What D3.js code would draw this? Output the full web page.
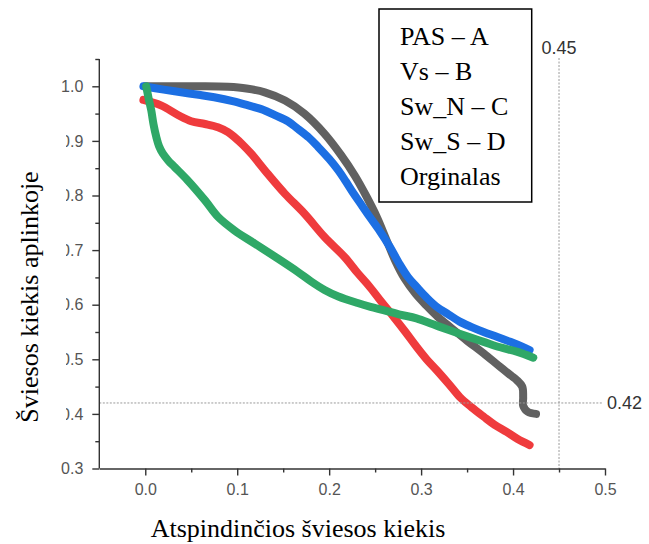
<!DOCTYPE html>
<html><head><meta charset="utf-8">
<script src="https://cdn.jsdelivr.net/npm/d3@7"></script>
<style>body{margin:0;background:#fff}svg{display:block}</style>
</head><body><svg id="c" width="649" height="544"></svg>
<script>
// ---- data ----
const origData = [[0.000,1.000],[0.03,1.000],[0.06,1.000],[0.09,0.999],[0.11,0.996],[0.13,0.989],[0.152,0.974],[0.173,0.950],[0.195,0.913],[0.213,0.874],[0.228,0.836],[0.24,0.800],[0.252,0.760],[0.262,0.720],[0.272,0.680],[0.282,0.648],[0.294,0.620],[0.306,0.598],[0.318,0.578],[0.331,0.560],[0.35,0.534],[0.368,0.511],[0.386,0.486],[0.398,0.470],[0.404,0.462],[0.410,0.450],[0.411,0.430],[0.411,0.415],[0.416,0.404],[0.425,0.400]];
const redData = [[-0.002,0.975],[0.017,0.965],[0.036,0.947],[0.050,0.936],[0.065,0.931],[0.079,0.925],[0.090,0.916],[0.097,0.907],[0.106,0.893],[0.115,0.877],[0.133,0.840],[0.152,0.803],[0.173,0.767],[0.195,0.724],[0.217,0.687],[0.231,0.658],[0.244,0.633],[0.257,0.605],[0.270,0.578],[0.283,0.550],[0.295,0.523],[0.306,0.500],[0.317,0.480],[0.330,0.455],[0.342,0.431],[0.355,0.412],[0.368,0.395],[0.380,0.380],[0.393,0.367],[0.405,0.354],[0.418,0.343]];
const blueData = [[-0.002,1.000],[0.02,0.994],[0.039,0.989],[0.06,0.984],[0.075,0.980],[0.095,0.973],[0.112,0.965],[0.128,0.957],[0.141,0.947],[0.155,0.936],[0.166,0.922],[0.178,0.906],[0.188,0.889],[0.200,0.867],[0.210,0.846],[0.218,0.826],[0.226,0.805],[0.235,0.783],[0.244,0.761],[0.255,0.735],[0.266,0.706],[0.276,0.676],[0.286,0.650],[0.295,0.633],[0.306,0.613],[0.317,0.596],[0.330,0.582],[0.342,0.569],[0.355,0.559],[0.368,0.550],[0.383,0.541],[0.397,0.532],[0.410,0.523],[0.418,0.517]];
const greenData = [[0.001,1.000],[0.004,0.975],[0.0065,0.956],[0.009,0.930],[0.012,0.907],[0.015,0.890],[0.019,0.877],[0.025,0.864],[0.032,0.852],[0.046,0.828],[0.065,0.791],[0.079,0.761],[0.097,0.736],[0.119,0.712],[0.141,0.688],[0.166,0.660],[0.180,0.643],[0.195,0.627],[0.210,0.615],[0.231,0.603],[0.245,0.596],[0.259,0.590],[0.277,0.582],[0.295,0.575],[0.313,0.564],[0.331,0.553],[0.350,0.542],[0.368,0.532],[0.386,0.522],[0.404,0.514],[0.422,0.503]];
const seriesColors = ["#616161","#ef3b3d","#1c6fe3","#2fa867"];
const legendLabels = ["PAS – A","Vs – B","Sw_N – C","Sw_S – D","Orginalas"];
const xTicks = [0,0.1,0.2,0.3,0.4,0.5];
const xMinor = [0.05,0.15,0.25,0.35,0.45];
const yTicks = [0.3,0.4,0.5,0.6,0.7,0.8,0.9,1.0];
const yMinor = [0.35,0.45,0.55,0.65,0.75,0.85,0.95,1.05];
const refX = 0.45, refY = 0.42;
const xTitle = "Atspindinčios šviesos kiekis";
const yTitle = "Šviesos kiekis aplinkoje";

// ---- drawing ----
const svg = d3.select("#c");
svg.append("rect").attr("width",649).attr("height",544).attr("fill","#fff");
const x = d3.scaleLinear().domain([-0.05,0.5]).range([99.3,605]);
const y = d3.scaleLinear().domain([0.3,1.05]).range([468.5,59]);
const sans = "'Liberation Sans', Arial, sans-serif";
const serif = "'Liberation Serif', 'Times New Roman', serif";

// curves
const line = d3.line().x(d=>x(d[0])).y(d=>y(d[1])).curve(d3.curveCatmullRom.alpha(0.5));
[origData, redData, blueData, greenData].forEach((s,i)=>{
  svg.append("path").datum(s).attr("d",line).attr("fill","none")
    .attr("stroke",seriesColors[i]).attr("stroke-width",8)
    .attr("stroke-linecap","round").attr("stroke-linejoin","round");
});

// reference lines
svg.append("line").attr("x1",x(refX)).attr("x2",x(refX)).attr("y1",58).attr("y2",y(0.3))
  .attr("stroke","#9a9a9a").attr("stroke-width",1).attr("stroke-dasharray","2,1.5");
svg.append("line").attr("x1",x(-0.05)).attr("x2",603).attr("y1",y(refY)).attr("y2",y(refY))
  .attr("stroke","#9a9a9a").attr("stroke-width",1).attr("stroke-dasharray","2,1.5");
svg.append("text").attr("x",x(refX)).attr("y",54).attr("text-anchor","middle")
  .attr("font-family",sans).attr("font-size",18).attr("fill","#333").text(refX.toFixed(2));
svg.append("text").attr("x",607).attr("y",y(refY)+6.5)
  .attr("font-family",sans).attr("font-size",18).attr("fill","#333").text(refY.toFixed(2));

// axes
function styleAxis(g){
  g.selectAll("path,line").attr("stroke","#333").attr("stroke-width",1.4);
  g.selectAll("text").attr("font-family",sans).attr("font-size",16).attr("fill","#555");
}
const gx = svg.append("g").attr("transform",`translate(0,${y(0.3)})`)
  .call(d3.axisBottom(x).tickValues(xTicks).tickSize(7).tickSizeOuter(0).tickPadding(8).tickFormat(d3.format(".1f")));
styleAxis(gx);
const gxm = svg.append("g").attr("transform",`translate(0,${y(0.3)})`)
  .call(d3.axisBottom(x).tickValues(xMinor).tickSize(4).tickFormat(""));
gxm.select(".domain").remove(); styleAxis(gxm);

const gy = svg.append("g").attr("transform",`translate(${x(-0.05)},0)`)
  .call(d3.axisLeft(y).tickValues(yTicks).tickSize(7).tickSizeOuter(0).tickPadding(9).tickFormat(d3.format(".1f")));
styleAxis(gy);
const gym = svg.append("g").attr("transform",`translate(${x(-0.05)},0)`)
  .call(d3.axisLeft(y).tickValues(yMinor).tickSize(4).tickFormat(""));
gym.select(".domain").remove(); styleAxis(gym);
gy.select(".domain").attr("d",`M0,${y(0.3)}V${y(1.05)}`);

// white box of the y title (covers part of the tick labels, as in the reference)
svg.append("rect").attr("x",0).attr("y",96).attr("width",66).attr("height",359).attr("fill","#fff");

// titles
svg.append("text").attr("transform","translate(38,297) rotate(-90)").attr("text-anchor","middle")
  .attr("font-family",serif).attr("font-size",26).attr("fill","#000").text(yTitle);
svg.append("text").attr("x",298).attr("y",537).attr("text-anchor","middle")
  .attr("font-family",serif).attr("font-size",26).attr("fill","#000").text(xTitle);

// legend box
svg.append("rect").attr("x",379).attr("y",9).attr("width",152.7).attr("height",193)
  .attr("fill","#fff").attr("stroke","#000").attr("stroke-width",1.5);
svg.selectAll(".lg").data(legendLabels).join("text").attr("class","lg")
  .attr("x",400).attr("y",(d,i)=>45+i*35)
  .attr("font-family",serif).attr("font-size",26).attr("fill","#000").text(d=>d);
</script></body></html>
